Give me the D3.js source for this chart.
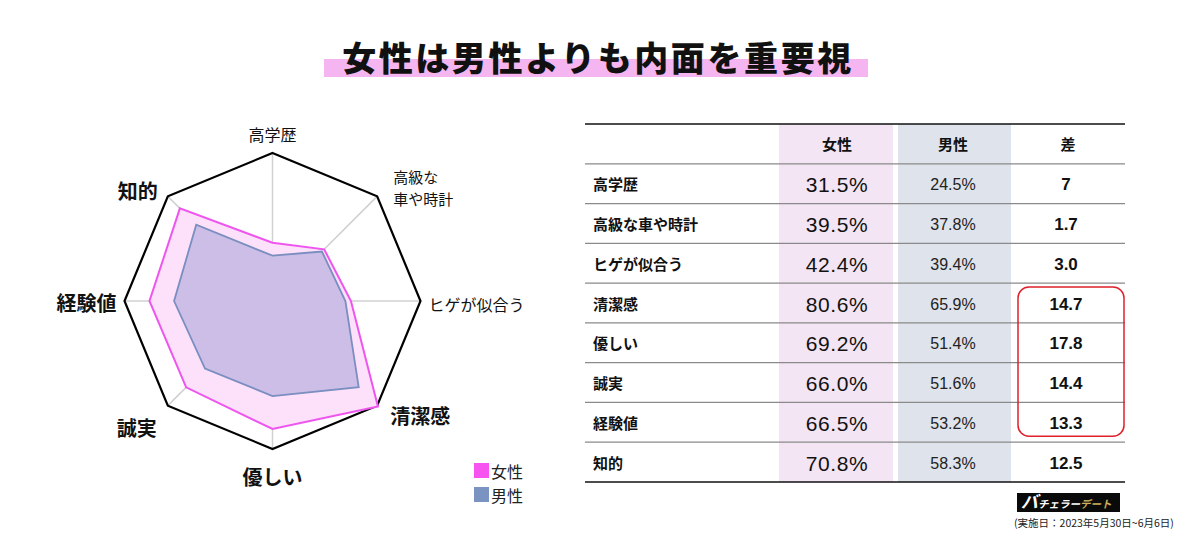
<!DOCTYPE html>
<html>
<head>
<meta charset="utf-8">
<script src="https://cdn.jsdelivr.net/npm/d3@7"></script>
<style>
  html, body { margin: 0; padding: 0; background: #fff; }
  svg { display: block; font-family: "Noto Sans CJK JP", "Noto Sans", sans-serif; }
  .num { font-family: "Liberation Sans", Arial, sans-serif; }
</style>
</head>
<body>
<script>
// 項目と値
const categories = ['高学歴', '高級な車や時計', 'ヒゲが似合う', '清潔感', '優しい', '誠実', '経験値', '知的']
const axisLabels = [['高学歴'], ['高級な', '車や時計'], ['ヒゲが似合う'], ['清潔感'], ['優しい'], ['誠実'], ['経験値'], ['知的']]
const women = [31.5, 39.5, 42.4, 80.6, 69.2, 66.0, 66.5, 70.8]
const men = [24.5, 37.8, 39.4, 65.9, 51.4, 51.6, 53.2, 58.3]
const diffs = [7, 1.7, 3.0, 14.7, 17.8, 14.4, 13.3, 12.5]
const diffLabels = ['7', '1.7', '3.0', '14.7', '17.8', '14.4', '13.3', '12.5']
const columns = ['', '女性', '男性', '差']
const seriesNames = ['女性', '男性']
const highlighted = ['清潔感', '優しい', '誠実', '経験値']
const title = '女性は男性よりも内面を重要視'
const source = '(実施日：2023年5月30日~6月6日)'

const W = 1200, H = 544
const svg = d3.select('body').append('svg').attr('width', W).attr('height', H)

// タイトル
const tg = svg.append('g')
tg.append('rect').attr('x', 324).attr('y', 59).attr('width', 544).attr('height', 18).attr('fill', '#f4b5f0')
tg.append('text').attr('x', 598).attr('y', 56).attr('text-anchor', 'middle').attr('dominant-baseline', 'central')
  .attr('font-size', 34).attr('font-weight', 900).attr('letter-spacing', 2.6).attr('fill', '#111').text(title)

// レーダー
const cx = 272.5, cy = 301, R = 148
const r = d3.scaleLinear().domain([0, 80]).range([0, R])
const angle = d3.scaleLinear().domain([0, categories.length]).range([0, 2 * Math.PI])
const radar = svg.append('g').attr('transform', `translate(${cx},${cy})`)
const pt = (i, v) => [Math.sin(angle(i)) * r(v), -Math.cos(angle(i)) * r(v)]

radar.selectAll('line.spoke').data(categories).join('line').attr('class', 'spoke')
  .attr('x1', 0).attr('y1', 0)
  .attr('x2', (d, i) => pt(i, 80)[0]).attr('y2', (d, i) => pt(i, 80)[1])
  .attr('stroke', '#d0d0d0').attr('stroke-width', 1.5)

const lineR = d3.lineRadial().angle((d, i) => angle(i)).radius(d => r(d)).curve(d3.curveLinearClosed)

radar.append('path').datum(categories.map(() => 80)).attr('d', lineR)
  .attr('fill', 'none').attr('stroke', '#000').attr('stroke-width', 2.2).attr('stroke-linejoin', 'miter')

radar.append('path').datum(women).attr('d', lineR)
  .attr('fill', '#fde0fa').attr('stroke', '#ee55ee').attr('stroke-width', 2)
radar.append('path').datum(men).attr('d', lineR)
  .attr('fill', 'rgba(120,132,198,0.37)').attr('stroke', '#7a8ec0').attr('stroke-width', 1.8)

// 軸ラベル（差が10以上は太字）
const labelNudge = [[0, -19], [16, -9], [8, 3], [13, 10], [0, 27], [-11, 22], [-8, 1], [-10, -6]]
axisLabels.forEach((lines, i) => {
  const [vx, vy] = pt(i, 80)
  const c = Math.sin(angle(i))
  const anchor = c > 0.1 ? 'start' : c < -0.1 ? 'end' : 'middle'
  const bold = diffs[i] >= 10
  const fs = bold ? 20 : (lines.length > 1 ? 15 : 16)
  const lh = 22
  lines.forEach((s, k) => {
    radar.append('text')
      .attr('x', vx + labelNudge[i][0])
      .attr('y', vy + labelNudge[i][1] + (k - (lines.length - 1) / 2) * lh)
      .attr('text-anchor', anchor).attr('dominant-baseline', 'central')
      .attr('font-size', fs).attr('font-weight', bold ? 700 : 400)
      .attr('fill', '#111').text(s)
  })
})

// 凡例
const legend = svg.append('g').attr('transform', 'translate(474,463)')
const legendColor = ['#f653f0', '#7b93c0']
seriesNames.forEach((s, i) => {
  const g = legend.append('g').attr('transform', `translate(0,${i * 24})`)
  g.append('rect').attr('width', 15).attr('height', 15).attr('fill', legendColor[i])
  g.append('text').attr('x', 17).attr('y', 8).attr('dominant-baseline', 'central')
    .attr('font-size', 16).attr('fill', '#222').text(s)
})

// 表
const tbl = svg.append('g')
const rowY = d3.scaleBand().domain(['header', ...categories]).range([124, 482])
const colEdges = [585, 779, 895, 1011, 1125]
const colX = d3.scaleOrdinal().domain(columns).range(colEdges.slice(0, 4))
const colW = c => colEdges[columns.indexOf(c) + 1] - colEdges[columns.indexOf(c)]

tbl.append('rect').attr('x', 779).attr('y', 124).attr('width', 114).attr('height', 358).attr('fill', '#f3e5f3')
tbl.append('rect').attr('x', 898).attr('y', 124).attr('width', 113).attr('height', 358).attr('fill', '#dfe3eb')

tbl.selectAll('line.row').data(categories).join('line').attr('class', 'row')
  .attr('x1', 585).attr('x2', 1125)
  .attr('y1', d => rowY(d)).attr('y2', d => rowY(d))
  .attr('stroke', '#8a8a8a').attr('stroke-width', 1.3)
tbl.append('line').attr('x1', 585).attr('x2', 1125).attr('y1', 124).attr('y2', 124).attr('stroke', '#111').attr('stroke-width', 1.5)
tbl.append('line').attr('x1', 585).attr('x2', 1125).attr('y1', 482).attr('y2', 482).attr('stroke', '#111').attr('stroke-width', 1.5)

const mid = k => rowY(k) + rowY.bandwidth() / 2
columns.slice(1).forEach(c => {
  tbl.append('text').attr('x', colX(c) + colW(c) / 2).attr('y', mid('header'))
    .attr('text-anchor', 'middle').attr('dominant-baseline', 'central')
    .attr('font-size', 15).attr('font-weight', 700).attr('fill', '#111').text(c)
})
const fmt = d3.format('.1f')
categories.forEach((cat, i) => {
  const y = mid(cat)
  tbl.append('text').attr('x', 593).attr('y', y).attr('dominant-baseline', 'central')
    .attr('font-size', 15).attr('font-weight', 700).attr('fill', '#111').text(cat)
  tbl.append('text').attr('class', 'num').attr('x', colX('女性') + colW('女性') / 2).attr('y', y + 1)
    .attr('text-anchor', 'middle').attr('dominant-baseline', 'central')
    .attr('font-size', 21).attr('fill', '#111').attr('letter-spacing', 0.6).text(fmt(women[i]) + '%')
  tbl.append('text').attr('class', 'num').attr('x', colX('男性') + colW('男性') / 2).attr('y', y + 1)
    .attr('text-anchor', 'middle').attr('dominant-baseline', 'central')
    .attr('font-size', 16).attr('fill', '#222').text(fmt(men[i]) + '%')
  tbl.append('text').attr('class', 'num').attr('x', colX('差') + colW('差') / 2 - 2).attr('y', y + 1)
    .attr('text-anchor', 'middle').attr('dominant-baseline', 'central')
    .attr('font-size', 17).attr('font-weight', 700).attr('fill', '#111').text(diffLabels[i])
})

// 赤枠
const hFirst = highlighted[0], hLast = highlighted[highlighted.length - 1]
tbl.append('rect').attr('x', 1018).attr('y', rowY(hFirst) + 4)
  .attr('width', 106).attr('height', rowY(hLast) + rowY.bandwidth() - rowY(hFirst) - 10)
  .attr('rx', 11).attr('fill', 'none').attr('stroke', '#e0202a').attr('stroke-width', 1.5)

// ロゴと出典
const defs = svg.append('defs')
const grad = defs.append('linearGradient').attr('id', 'gold').attr('x1', 0).attr('y1', 0).attr('x2', 0).attr('y2', 1)
grad.append('stop').attr('offset', '0%').attr('stop-color', '#f7e7a8')
grad.append('stop').attr('offset', '100%').attr('stop-color', '#b8902c')
const logo = svg.append('g').attr('transform', 'translate(1017,493)')
logo.append('rect').attr('width', 103).attr('height', 19).attr('fill', '#0a0a0a')
const lt = logo.append('text').attr('x', 4).attr('y', 15).attr('font-weight', 700).attr('font-style', 'italic')
lt.append('tspan').attr('font-size', 17).attr('fill', '#fff').text('バ')
lt.append('tspan').attr('font-size', 10.5).attr('fill', '#fff').text('チェラー')
lt.append('tspan').attr('font-size', 10.5).attr('fill', 'url(#gold)').text('デート')
svg.append('text').attr('x', 1014).attr('y', 522).attr('dominant-baseline', 'central')
  .attr('font-size', 10.5).attr('fill', '#222').text(source)
</script>
</body>
</html>
